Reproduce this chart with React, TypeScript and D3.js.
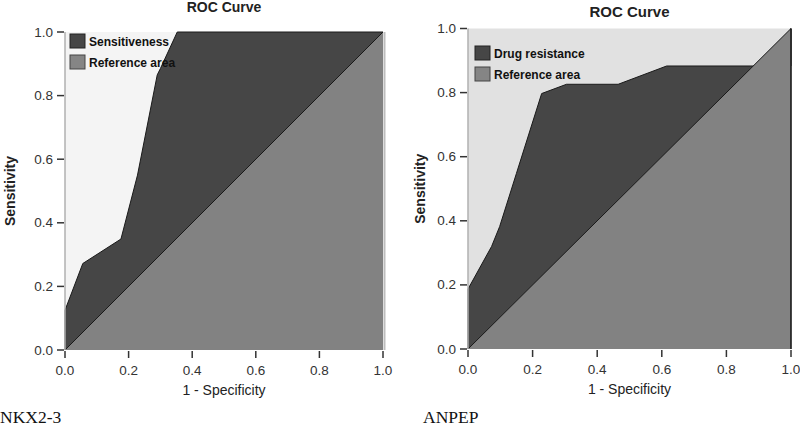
import React from "react";
import * as d3 from "d3";

const tickValues = [0, 0.2, 0.4, 0.6, 0.8, 1.0];
const tickLabels = ["0.0", "0.2", "0.4", "0.6", "0.8", "1.0"];

const leftFpr = [0, 0, 0.056, 0.176, 0.228, 0.29, 0.3, 0.353, 1];
const leftTpr = [0, 0.125, 0.272, 0.349, 0.55, 0.865, 0.885, 1, 1];

const rightFpr = [0, 0, 0.073, 0.098, 0.15, 0.228, 0.305, 0.465, 0.615, 1, 1];
const rightTpr = [0, 0.187, 0.32, 0.382, 0.548, 0.797, 0.826, 0.826, 0.883, 0.883, 1];

const refFpr = [0, 1, 1];
const refTpr = [0, 0, 1];

type PanelProps = {
  fpr: number[];
  tpr: number[];
  x0: number;
  x1: number;
  yTop: number;
  yBot: number;
  bg: string;
  seriesName: string;
  caption: string;
  captionX: number;
  titleSize: number;
  titleY: number;
  legendX: number;
  legendY: number;
  rightEdgeDark: boolean;
  yLabelX: number;
};

function Panel(p: PanelProps) {
  const x = d3.scaleLinear().domain([0, 1]).range([p.x0, p.x1]);
  const y = d3.scaleLinear().domain([0, 1]).range([p.yBot, p.yTop]);
  const pts: [number, number][] = p.fpr.map((f, i) => [f, p.tpr[i]]);
  const areaPts: [number, number][] = [...pts, [1, 0]];
  const refPts: [number, number][] = refFpr.map((f, i) => [f, refTpr[i]]);
  const line = d3
    .line<[number, number]>()
    .x((d) => x(d[0]))
    .y((d) => y(d[1]));
  const sans = "'Liberation Sans', Arial, sans-serif";
  const cx = (p.x0 + p.x1) / 2;
  const cy = (p.yTop + p.yBot) / 2;
  return (
    <g>
      <rect x={p.x0} y={p.yTop} width={p.x1 - p.x0} height={p.yBot - p.yTop} fill={p.bg} />
      <path d={line(areaPts) + "Z"} fill="#464646" stroke="none" />
      <path d={line(pts) || ""} fill="none" stroke="#1a1a1a" strokeWidth={1} />
      <path d={line(refPts) + "Z"} fill="#828282" stroke="none" />
      <line x1={x(0)} y1={y(0)} x2={x(1)} y2={y(1)} stroke="#1a1a1a" strokeWidth={1} />
      {p.rightEdgeDark ? (
        <line x1={p.x1} y1={p.yTop} x2={p.x1} y2={p.yBot} stroke="#1a1a1a" strokeWidth={1.6} />
      ) : (
        <line x1={p.x1 + 1.5} y1={p.yTop} x2={p.x1 + 1.5} y2={p.yBot} stroke="#bdbdbd" strokeWidth={2} />
      )}
      <line x1={p.x0} y1={p.yTop} x2={p.x0} y2={p.yBot} stroke="#b0b0b0" strokeWidth={1.5} />
      {tickValues.map((v, i) => (
        <g key={"y" + i}>
          <line x1={p.x0 - 8} x2={p.x0 - 1} y1={y(v)} y2={y(v)} stroke="#333" strokeWidth={1.5} />
          <text x={p.x0 - 12} y={y(v) + 4.5} textAnchor="end" fontFamily={sans} fontSize={13.5} fill="#333">
            {tickLabels[i]}
          </text>
        </g>
      ))}
      {tickValues.map((v, i) => (
        <g key={"x" + i}>
          <line x1={x(v)} x2={x(v)} y1={p.yBot + 1} y2={p.yBot + 8} stroke="#333" strokeWidth={1.5} />
          <text x={x(v)} y={p.yBot + 25} textAnchor="middle" fontFamily={sans} fontSize={13.5} fill="#333">
            {tickLabels[i]}
          </text>
        </g>
      ))}
      <text x={cx} y={p.yBot + 45} textAnchor="middle" fontFamily={sans} fontSize={14} fill="#222">
        1 - Specificity
      </text>
      <text
        transform={`translate(${p.yLabelX},${cy}) rotate(-90)`}
        textAnchor="middle"
        fontFamily={sans}
        fontSize={14}
        fontWeight="bold"
        fill="#222"
      >
        Sensitivity
      </text>
      <text
        x={cx}
        y={p.titleY}
        textAnchor="middle"
        fontFamily={sans}
        fontSize={p.titleSize}
        fontWeight="bold"
        fill="#222"
      >
        ROC Curve
      </text>
      <rect x={p.legendX} y={p.legendY} width={15} height={14} fill="#464646" stroke="#222" strokeWidth={1} />
      <text x={p.legendX + 19} y={p.legendY + 11.5} fontFamily={sans} fontSize={12} fontWeight="bold" fill="#111">
        {p.seriesName}
      </text>
      <rect x={p.legendX} y={p.legendY + 21} width={15} height={14} fill="#858585" stroke="#444" strokeWidth={1} />
      <text x={p.legendX + 19} y={p.legendY + 32.5} fontFamily={sans} fontSize={12} fontWeight="bold" fill="#111">
        Reference area
      </text>
      <text x={p.captionX} y={423} fontFamily="'Liberation Serif', 'Times New Roman', serif" fontSize={17.5} fill="#111">
        {p.caption}
      </text>
    </g>
  );
}

export default function App() {
  return (
    <svg width={800} height={433} style={{ position: "absolute", left: 0, top: 0, background: "#fff" }}>
      <Panel
        fpr={leftFpr}
        tpr={leftTpr}
        x0={65}
        x1={383}
        yTop={32}
        yBot={350}
        bg="#f4f4f4"
        seriesName="Sensitiveness"
        caption="NKX2-3"
        captionX={0}
        titleSize={14}
        titleY={12}
        legendX={70}
        legendY={34}
        rightEdgeDark={false}
        yLabelX={15}
      />
      <Panel
        fpr={rightFpr}
        tpr={rightTpr}
        x0={468}
        x1={791}
        yTop={28.5}
        yBot={349}
        bg="#e1e1e1"
        seriesName="Drug resistance"
        caption="ANPEP"
        captionX={423}
        titleSize={15}
        titleY={17}
        legendX={475}
        legendY={46}
        rightEdgeDark={true}
        yLabelX={425}
      />
    </svg>
  );
}
